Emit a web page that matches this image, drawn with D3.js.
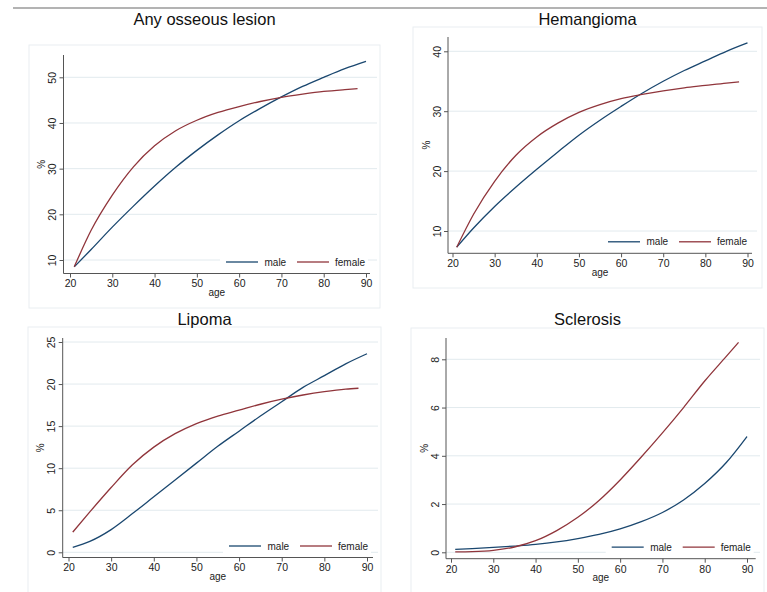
<!DOCTYPE html>
<html>
<head>
<meta charset="utf-8">
<script src="https://cdn.jsdelivr.net/npm/d3@7"></script>
<style>
  body { margin: 0; background: #fff; }
  svg { display: block; font-family: Arial, "Liberation Sans", sans-serif; }
</style>
</head>
<body>
<div class="chart"></div>
<script>
var width = 767;
var height = 592;

var titles = ["Any osseous lesion", "Hemangioma", "Lipoma", "Sclerosis"];
var seriesNames = ["male", "female"];
var xTicks = [20, 30, 40, 50, 60, 70, 80, 90];
var maleAges = [21, 25, 30, 35, 40, 45, 50, 55, 60, 65, 70, 75, 80, 85, 90];
var femaleAges = [21, 25, 30, 35, 40, 45, 50, 55, 60, 65, 70, 75, 80, 85, 88];

var lesionMale = [8.5, 12.3, 17.2, 21.8, 26.2, 30.3, 34.0, 37.4, 40.5, 43.2, 45.7, 48.0, 50.0, 51.9, 53.5];
var lesionFemale = [8.5, 16.5, 24.2, 30.4, 35.0, 38.3, 40.6, 42.3, 43.6, 44.7, 45.6, 46.3, 46.9, 47.3, 47.5];
var lesionTicks = [10, 20, 30, 40, 50];

var hemMale = [7.3, 10.5, 14.1, 17.3, 20.3, 23.2, 26.0, 28.5, 30.8, 33.0, 35.0, 36.8, 38.4, 40.0, 41.4];
var hemFemale = [7.3, 12.8, 18.3, 22.6, 25.7, 28.0, 29.8, 31.1, 32.1, 32.8, 33.4, 33.9, 34.3, 34.7, 34.9];
var hemTicks = [10, 20, 30, 40];

var lipMale = [0.6, 1.3, 2.7, 4.6, 6.6, 8.6, 10.6, 12.6, 14.4, 16.2, 17.9, 19.6, 21.0, 22.4, 23.6];
var lipFemale = [2.4, 4.8, 7.7, 10.4, 12.5, 14.1, 15.3, 16.2, 16.9, 17.6, 18.2, 18.7, 19.1, 19.4, 19.5];
var lipTicks = [0, 5, 10, 15, 20, 25];

var sclMale = [0.12, 0.15, 0.2, 0.26, 0.33, 0.43, 0.57, 0.74, 0.97, 1.27, 1.65, 2.17, 2.85, 3.7, 4.8];
var sclFemale = [0.02, 0.03, 0.08, 0.22, 0.48, 0.9, 1.45, 2.15, 3.0, 3.95, 4.95, 6.0, 7.1, 8.1, 8.7];
var sclTicks = [0, 2, 4, 6, 8];

var colors = ["#1a476f", "#90353b"];

// pixel layout of the four panels
var panels = [
  { title: titles[0], male: lesionMale, female: lesionFemale, yTicks: lesionTicks,
    box: [29, 45, 380, 308], axL: 63.5, axR: 370, axT: 55, axB: 273.5,
    xRange: [70, 366], yRange: [260, 77.3], gridR: 377, titleX: 204.5, titleY: 25 },
  { title: titles[1], male: hemMale, female: hemFemale, yTicks: hemTicks,
    box: [413, 27, 762, 288], axL: 448, axR: 752, axT: 37, axB: 253.3,
    xRange: [452.5, 747.5], yRange: [231, 51.3], gridR: 757, titleX: 587.5, titleY: 25 },
  { title: titles[2], male: lipMale, female: lipFemale, yTicks: lipTicks,
    box: [28, 327, 381, 600], axL: 62.7, axR: 373, axT: 338, axB: 557.5,
    xRange: [68.5, 367], yRange: [552.3, 342], gridR: 378, titleX: 204.5, titleY: 325 },
  { title: titles[3], male: sclMale, female: sclFemale, yTicks: sclTicks,
    box: [411, 328, 764, 600], axL: 446, axR: 755.7, axT: 338, axB: 558.7,
    xRange: [451, 747], yRange: [552.3, 359.3], gridR: 760, titleX: 587.5, titleY: 325 },
];

var svg = d3
  .select(".chart")
  .append("svg")
  .attr("width", width)
  .attr("height", height);

svg.append("rect").attr("width", width).attr("height", height).style("fill", "#fff");

svg.append("line")
  .attr("x1", 13).attr("x2", width)
  .attr("y1", 8).attr("y2", 8)
  .style("stroke", "#9a9a9a")
  .style("stroke-width", 1.5);

const drawPanel = (p) => {
  let g = svg.append("g");

  g.append("rect")
    .attr("x", p.box[0])
    .attr("y", p.box[1])
    .attr("width", p.box[2] - p.box[0])
    .attr("height", p.box[3] - p.box[1])
    .style("fill", "none")
    .style("stroke", "#e9eef1");

  let x = d3.scaleLinear().domain([xTicks[0], xTicks[xTicks.length - 1]]).range(p.xRange);
  let y = d3.scaleLinear().domain([p.yTicks[0], p.yTicks[p.yTicks.length - 1]]).range(p.yRange);

  g.selectAll(".grid")
    .data(p.yTicks)
    .enter()
    .append("line")
    .attr("x1", p.axL)
    .attr("x2", p.gridR)
    .attr("y1", (d) => y(d))
    .attr("y2", (d) => y(d))
    .style("stroke", "#e2eaee")
    .style("stroke-width", 1);

  // y axis
  let yAxis = g.append("g")
    .attr("transform", `translate(${p.axL},0)`)
    .call(d3.axisLeft(y).tickValues(p.yTicks).tickSize(4).tickFormat(d3.format("d")));
  yAxis.select(".domain").remove();
  yAxis.selectAll("line").style("stroke", "#555");
  yAxis.selectAll("text")
    .attr("x", null)
    .attr("dy", null)
    .attr("transform", "translate(-7.5,0) rotate(-90)")
    .style("text-anchor", "middle")
    .style("font-size", "10.5px")
    .style("fill", "#222");
  g.append("line")
    .attr("x1", p.axL).attr("x2", p.axL)
    .attr("y1", p.axT).attr("y2", p.axB)
    .style("stroke", "#555");

  // x axis
  let xAxis = g.append("g")
    .attr("transform", `translate(0,${p.axB})`)
    .call(d3.axisBottom(x).tickValues(xTicks).tickSize(4).tickPadding(2.5).tickFormat(d3.format("d")));
  xAxis.select(".domain").remove();
  xAxis.selectAll("line").style("stroke", "#555");
  xAxis.selectAll("text").style("font-size", "10.5px").style("fill", "#222");
  g.append("line")
    .attr("x1", p.axL).attr("x2", p.axR)
    .attr("y1", p.axB).attr("y2", p.axB)
    .style("stroke", "#555");

  g.append("text")
    .attr("x", (p.axL + p.axR) / 2)
    .attr("y", p.axB + 22.5)
    .style("text-anchor", "middle")
    .style("font-size", "10px")
    .style("fill", "#222")
    .text("age");

  g.append("text")
    .attr("transform", `translate(${p.axL - 18.5},${(p.axT + p.axB) / 2}) rotate(-90)`)
    .style("text-anchor", "middle")
    .style("font-size", "10px")
    .style("fill", "#222")
    .text("%");

  g.append("text")
    .attr("x", p.titleX)
    .attr("y", p.titleY)
    .style("text-anchor", "middle")
    .style("font-size", "16.5px")
    .style("fill", "#111")
    .text(p.title);

  // legend inside plot, bottom right
  let legX = p.axR - 144;
  let legY = p.axB - 11.5;
  g.append("rect")
    .attr("x", legX - 6)
    .attr("y", legY - 7)
    .attr("width", 148)
    .attr("height", 14)
    .style("fill", "#fff");

  let line = d3.line()
    .x((d) => x(d[0]))
    .y((d) => y(d[1]))
    .curve(d3.curveMonotoneX);

  let series = [
    maleAges.map((a, i) => [a, p.male[i]]),
    femaleAges.map((a, i) => [a, p.female[i]]),
  ];

  g.selectAll(".curve")
    .data(series)
    .enter()
    .append("path")
    .attr("d", line)
    .style("fill", "none")
    .style("stroke", (d, i) => colors[i])
    .style("stroke-width", 1.3);

  let leg = g.selectAll(".leg")
    .data(seriesNames)
    .enter()
    .append("g")
    .attr("transform", (d, i) => `translate(${legX + i * 71},${legY})`);
  leg.append("line")
    .attr("x1", 0).attr("x2", 32)
    .attr("y1", 0).attr("y2", 0)
    .style("stroke", (d, i) => colors[i])
    .style("stroke-width", 1.3);
  leg.append("text")
    .attr("x", (d, i) => (i == 0 ? 38.5 : 38))
    .attr("y", 3.5)
    .style("font-size", "10px")
    .style("fill", "#222")
    .text((d) => d);
};

panels.forEach(drawPanel);
</script>
</body>
</html>
